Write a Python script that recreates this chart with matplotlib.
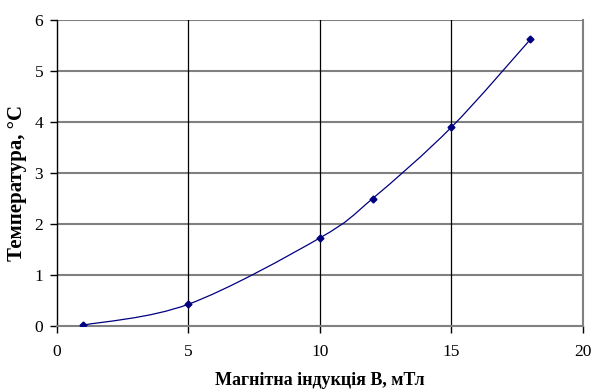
import matplotlib.pyplot as plt
from matplotlib.path import Path
from matplotlib.patches import PathPatch

plt.rcParams['font.family'] = ['Liberation Serif', 'DejaVu Serif']

# magnetic induction, mT
induction = [1, 5, 10, 12, 15, 18]
# temperature rise, deg C
temperature = [0.02, 0.43, 1.73, 2.5, 3.9, 5.62]


def smooth_path(xs, ys):
    # cubic bezier through every point, tangents from neighbouring points
    pts = list(zip(xs, ys))
    n = len(pts)
    verts = [pts[0]]
    codes = [Path.MOVETO]
    for i in range(n - 1):
        p0 = pts[i - 1] if i > 0 else pts[i]
        p1 = pts[i]
        p2 = pts[i + 1]
        p3 = pts[i + 2] if i + 2 < n else pts[i + 1]
        c1 = (p1[0] + (p2[0] - p0[0]) / 6, p1[1] + (p2[1] - p0[1]) / 6)
        c2 = (p2[0] - (p3[0] - p1[0]) / 6, p2[1] - (p3[1] - p1[1]) / 6)
        verts += [c1, c2, p2]
        codes += [Path.CURVE4] * 3
    return Path(verts, codes)


fig = plt.figure(figsize=(5.95, 3.92), dpi=100)
ax = fig.add_axes([0.0958, 0.168, 0.884, 0.781])

ax.set_xlim(0, 20)
ax.set_ylim(0, 6)
ax.set_xticks([0, 5, 10, 15, 20])
ax.set_yticks(range(0, 7))

for y in range(1, 7):
    ax.axhline(y, color='#808080', lw=1.5, zorder=1)
for x in [5, 10, 15]:
    ax.axvline(x, color='black', lw=0.9, zorder=1)

ax.add_patch(PathPatch(smooth_path(induction, temperature), fill=False,
                       edgecolor='#000080', lw=0.9, zorder=3))
ax.plot(induction, temperature, linestyle='none', marker='D', markersize=3.5,
        color='#000080', zorder=4)

ax.spines['top'].set_visible(False)
ax.spines['right'].set_color('#808080')
ax.spines['right'].set_linewidth(1.5)
ax.spines['bottom'].set_color('#808080')
ax.spines['bottom'].set_linewidth(1.5)
ax.spines['left'].set_color('black')
ax.spines['left'].set_linewidth(1.0)

ax.tick_params(axis='x', direction='out', length=5, width=1, color='black',
               pad=8, labelsize=12.5)
ax.tick_params(axis='y', direction='out', length=5, width=1, color='black',
               pad=5, labelsize=12.5)

ax.set_xlabel('Магнітна індукція В, мТл', fontsize=13, fontweight='bold',
              va='center')
ax.xaxis.set_label_coords(0.5, -0.176)
ax.set_ylabel('Температура, °C', fontsize=15, fontweight='bold',
              va='center')
ax.yaxis.set_label_coords(-0.076, 0.466)

fig.savefig('out.png', dpi=100)
